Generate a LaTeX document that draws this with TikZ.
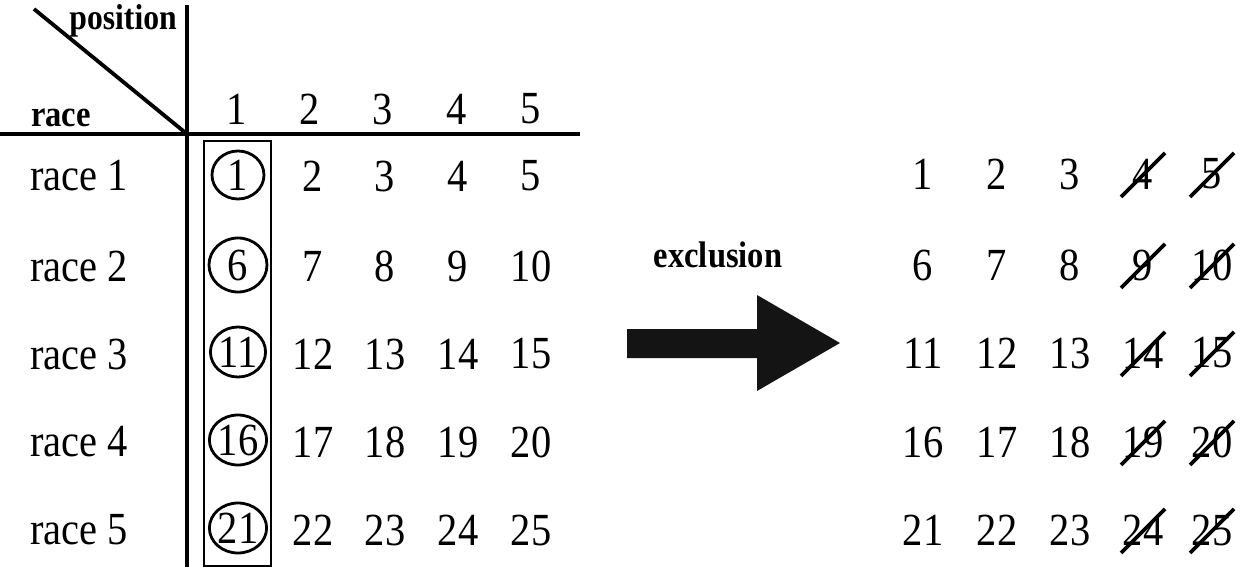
\documentclass[tikz,border=0pt]{standalone}
\usepackage{fontspec}
\usetikzlibrary{shapes.geometric}
\setmainfont{Liberation Serif}[FakeStretch=0.88]
\begin{document}
\begin{tikzpicture}[x=1pt,y=-1pt,
  num/.style={inner sep=0pt,font=\fontsize{46}{50}\selectfont},
  lab/.style={inner sep=0pt,font=\fontsize{46}{50}\selectfont},
  hdr/.style={inner sep=0pt,font=\fontsize{37}{42}\selectfont\bfseries},
  ring/.style={ellipse,draw,line width=2.8pt,inner sep=0pt,font=\fontsize{46}{50}\selectfont},
  rule/.style={line width=3.8pt},
  strike/.style={line width=3.6pt}]
\useasboundingbox (0,0) rectangle (1242,567);
% header lines
\coordinate (vtop) at (187,5);
\coordinate (vbot) at (187,567);
\coordinate (hl) at (0,134);
\coordinate (hr) at (580,134);
\coordinate (dtop) at (34,9);
\coordinate (corner) at (187,134);
\draw[rule] (vtop) -- (vbot);
\draw[rule] (hl) -- (hr);
\draw[rule] (dtop) -- (corner);
\node[hdr,anchor=base east,font=\fontsize{36}{40}\selectfont\bfseries] (pos) at (177,30) {position};
\node[hdr,anchor=base west] (race) at (31,127) {race};
% column headers
\foreach \c/\x in {1/237,2/310,3/383,4/457,5/531}
  \node[num] (h\c) at (\x,109) {\c};
% left grid
\foreach \r/\y in {1/176,2/266,3/354,4/442,5/530}{
  \node[lab,anchor=west] (rl\r) at (30,\y) {race \r};
}
\foreach \r/\y/\w/\h in {1/175/52/48,2/265/58/54,3/352/55/50,4/440/55/50,5/528/55/50}{
  \pgfmathtruncatemacro{\v}{(\r-1)*5+1}
  \node[ring,minimum width=\w pt,minimum height=\h pt] (L\r1) at (238,\y) {\v};
}
\foreach \r/\y in {1/176,2/266,3/354,4/442,5/530}{
  \foreach \c/\x in {2/313,3/385,4/458,5/531}{
    \pgfmathtruncatemacro{\n}{(\r-1)*5+\c}
    \node[num] (L\r\c) at (\x,\y) {\n};
  }
}
\draw[line width=2.8pt] (204,141) rectangle (271,566);
% arrow
\node[hdr,anchor=base] (excl) at (718,267) {exclusion};
\fill[black!92] (627,329) -- (757,329) -- (757,295) -- (840,343) -- (757,391) -- (757,358) -- (627,358) -- cycle;
% right grid
\foreach \r/\y in {1/174,2/265,3/353,4/442,5/530}{
  \foreach \c/\x in {1/923,2/997,3/1070,4/1143,5/1212}{
    \pgfmathtruncatemacro{\n}{(\r-1)*5+\c}
    \node[num] (R\r\c) at (\x,\y) {\n};
  }
  \foreach \c in {4,5}
    \draw[strike] ([shift={(-22,23)}]R\r\c.center) -- ([shift={(22,-21)}]R\r\c.center);
}
\end{tikzpicture}
\end{document}
